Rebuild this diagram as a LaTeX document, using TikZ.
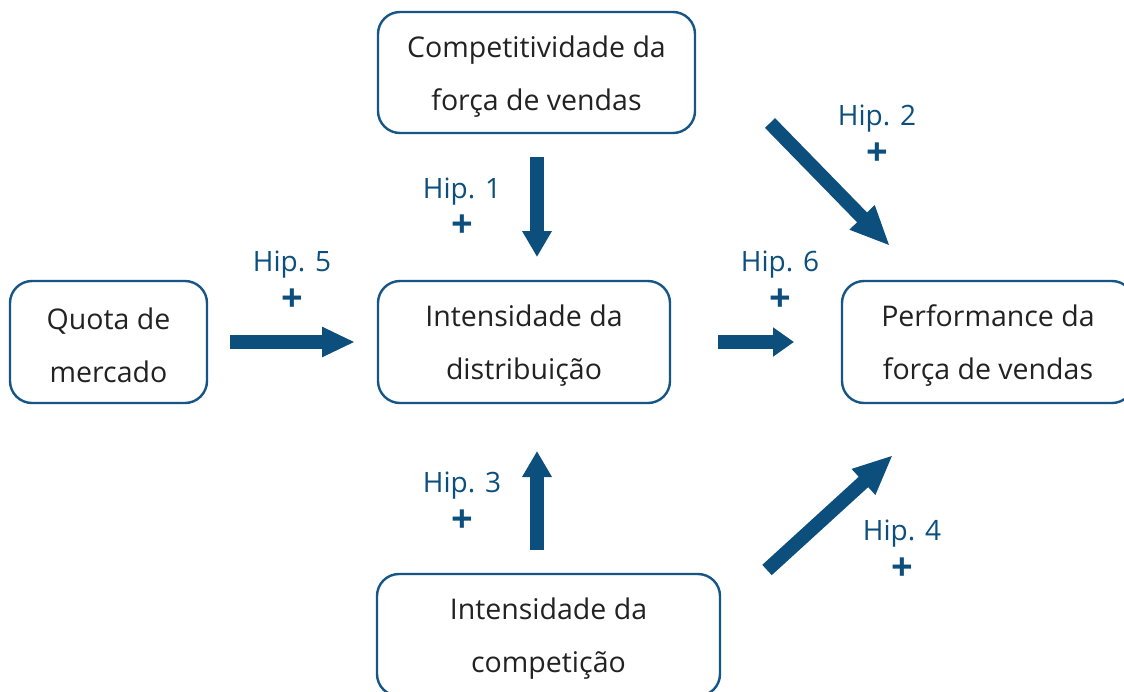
\documentclass[tikz,border=0pt]{standalone}
\usepackage{fontspec}
\setmainfont{Open Sans}
\usetikzlibrary{arrows.meta}
\definecolor{hipblue}{RGB}{12,78,124}
\definecolor{boxline}{RGB}{22,86,135}
\definecolor{txtgray}{RGB}{34,34,34}
\newcommand\tallstrut{\rule{0pt}{29pt}}
\tikzset{
  boxnode/.style={draw=boxline, line width=2.4pt, rounded corners=22pt, fill=white,
    text=txtgray, align=center, inner sep=0pt,
    font=\fontsize{28.5}{53}\selectfont},
  hiplabel/.style={text=hipblue, inner sep=0pt, anchor=base, font=\fontsize{28}{34}\selectfont},
  pluslabel/.style={text=hipblue, inner sep=0pt, font=\fontsize{38}{40}\selectfont\bfseries},
  bigarrow/.style={draw=hipblue, line width=14pt},
}
\begin{document}
\begin{tikzpicture}[x=1pt,y=-1pt]
\useasboundingbox (0,0) rectangle (1124,691);
\clip (0,0) rectangle (1124,691);
% boxes
\node[boxnode, minimum width=317pt, minimum height=121pt] (comp) at (536.5,72.5) {\tallstrut Competitividade da\\força de vendas};
\node[boxnode, minimum width=197pt, minimum height=122pt] (quota) at (108.5,342) {\tallstrut Quota de\\mercado};
\node[boxnode, minimum width=292pt, minimum height=122pt] (dist) at (524,342) {\tallstrut Intensidade da\\distribuição};
\node[boxnode, minimum width=292pt, minimum height=122pt] (perf) at (988,342) {\tallstrut Performance da\\força de vendas};
\node[boxnode, minimum width=343pt, minimum height=122pt] (compet) at (548.5,635) {\tallstrut Intensidade da\\competição};
% arrow end points
\coordinate (a1s) at (537,157); \coordinate (a1e) at (537,257);
\coordinate (a3s) at (537,550); \coordinate (a3e) at (537,451);
\coordinate (a5s) at (230,342); \coordinate (a5e) at (355,342);
\coordinate (a6s) at (718,342); \coordinate (a6e) at (794,342);
\coordinate (a2s) at (770,123); \coordinate (a2e) at (890,246);
\coordinate (a4s) at (767,570); \coordinate (a4e) at (893,455);
% arrows
\draw[bigarrow, -{Triangle[length=26pt,width=28pt]}] (a1s) -- (a1e);
\draw[bigarrow, -{Triangle[length=26pt,width=28pt]}] (a3s) -- (a3e);
\draw[bigarrow, -{Triangle[length=33pt,width=28pt]}] (a5s) -- (a5e);
\draw[bigarrow, -{Triangle[length=21pt,width=28pt]}] (a6s) -- (a6e);
\draw[bigarrow, -{Triangle[length=40pt,width=32pt]}] (a2s) -- (a2e);
\draw[bigarrow, -{Triangle[length=40pt,width=32pt]}] (a4s) -- (a4e);
% labels
\node[hiplabel] (h1) at (462,198) {Hip. 1};
\node[pluslabel] (p1) at (462,226) {+};
\node[hiplabel] (h2) at (877,125) {Hip. 2};
\node[pluslabel] (p2) at (877,154) {+};
\node[hiplabel] (h5) at (292,271) {Hip. 5};
\node[pluslabel] (p5) at (292,300) {+};
\node[hiplabel] (h6) at (780,271) {Hip. 6};
\node[pluslabel] (p6) at (780,300) {+};
\node[hiplabel] (h3) at (462,492) {Hip. 3};
\node[pluslabel] (p3) at (462,521) {+};
\node[hiplabel] (h4) at (902,540) {Hip. 4};
\node[pluslabel] (p4) at (902,569) {+};
\end{tikzpicture}
\end{document}
